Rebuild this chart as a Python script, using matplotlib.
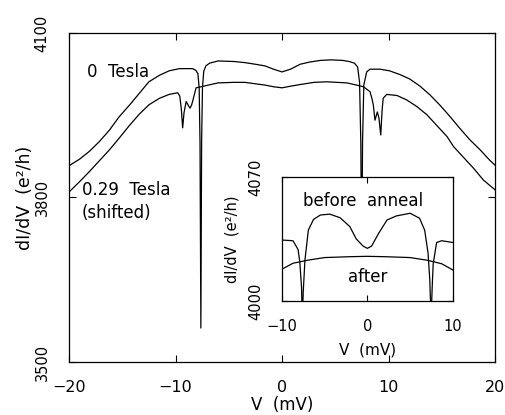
import matplotlib
matplotlib.use('Agg')
import matplotlib.pyplot as plt

plt.rcParams['font.family'] = ['DejaVu Sans']

# main panel: dI/dV vs V, 0 Tesla and 0.29 Tesla (shifted)
zero_v = [-20, -19.0, -18.1, -17.15, -16.2, -15.3, -14.3, -13.4, -12.5, -11.5, -10.6,
          -9.64, -8.4, -8.1, -7.9, -7.78, -7.7, -7.62, -7.55, -7.47, -7.35, -7.15,
          -6.8, -6.0, -4.5, -3.5, -2.5, -1.6, -0.8, 0, 0.8, 1.7, 2.6, 3.6, 4.6, 5.7,
          6.3, 6.8, 7.1, 7.28, 7.4, 7.48, 7.56, 7.68, 7.95, 8.26, 9.2, 10.1, 11.1,
          12.0, 12.96, 13.9, 14.8, 15.8, 16.7, 17.65, 18.6, 19.5, 20]
zero_g = [3858, 3870, 3884, 3902, 3923, 3947, 3969, 3990, 4011, 4023, 4031,
          4035, 4035, 4032, 4026, 4000, 3900, 3562, 3900, 4000, 4030, 4040,
          4045, 4049, 4048, 4046, 4043, 4040, 4034, 4029, 4034, 4043, 4047, 4050, 4051, 4050,
          4048, 4045, 4038, 4010, 3900, 3660, 3900, 4005, 4029, 4034, 4034, 4031, 4024,
          4016, 4003, 3987, 3969, 3947, 3926, 3905, 3887, 3868, 3859]

field_v = [-20, -19.0, -18.1, -17.15, -16.2, -15.3, -14.3, -13.4, -12.5, -11.5, -10.6,
           -9.8, -9.6, -9.45, -9.33, -9.2, -9.0, -8.8, -8.64, -8.5, -8.4, -8.07, -7.6,
           -6.0, -4.5, -3.5, -1.6, -0.8, 0, 0.8, 1.7, 3.0, 4.2, 6.1, 7.0, 7.64, 8.26,
           8.45, 8.57, 8.73, 8.95, 9.1, 9.27, 9.4, 9.5, 9.83, 10.8, 11.7, 12.65, 13.6,
           14.5, 15.5, 16.1, 17.0, 18.0, 18.9, 20]
field_g = [3810, 3829, 3847, 3867, 3887, 3908, 3932, 3952, 3969, 3981, 3988,
           3991, 3985, 3960, 3927, 3955, 3975, 3968, 3963, 3968, 3975, 4000, 4002,
           4009, 4010, 4010, 4005, 4002, 4000, 4003, 4006, 4010, 4011, 4009, 4005, 4002, 3993,
           3980, 3969, 3941, 3956, 3945, 3914, 3960, 3981, 3988, 3986, 3978, 3966, 3951,
           3932, 3911, 3893, 3874, 3853, 3832, 3814]

# inset: before / after anneal
before_v = [-10, -8.7, -8.1, -7.9, -7.7, -7.6, -7.5, -7.3, -6.9, -6.3, -5.5, -4.4,
            -3.2, -2.05, -1.3, -0.5, 0, 0.5, 1.3, 2.3, 3.4, 5.0, 6.1, 6.7, 7.1, 7.3,
            7.45, 7.6, 7.7, 8.1, 8.7, 10]
before_g = [4034.4, 4034, 4029, 4022, 4008, 3990, 4005, 4023, 4040, 4046, 4048.5,
            4049, 4047, 4042, 4035, 4031, 4029.7, 4031, 4038, 4045.7, 4048, 4049.5,
            4046.7, 4040, 4027, 4012, 3990, 4010, 4021, 4033, 4034, 4033]
after_v = [-10, -8.7, -7, -5, -2, 0, 2, 5, 7, 8.7, 10]
after_g = [4017.9, 4021.3, 4023, 4024.5, 4025, 4025.2, 4025, 4024.5, 4023, 4021, 4017.5]

main_xticks = [-20, -10, 0, 10, 20]
main_yticks = [3500, 3800, 4100]
inset_xticks = [-10, 0, 10]
inset_yticks = [4000, 4070]

fig = plt.figure(figsize=(5.06, 4.15), dpi=100)
ax = fig.add_axes([0.1364, 0.1277, 0.8419, 0.7928])
ax.plot(zero_v, zero_g, color='black', lw=0.9)
ax.plot(field_v, field_g, color='black', lw=0.9)
ax.set_xlim(-20, 20)
ax.set_ylim(3500, 4100)
ax.set_xticks(main_xticks)
ax.set_xticklabels([str(t).replace('-', '\u2212') for t in main_xticks], fontsize=11.5)
ax.set_yticks(main_yticks)
ax.set_yticklabels([str(t) for t in main_yticks], rotation=90, va='center', fontsize=10.5)
ax.tick_params(direction='in', top=True, right=True, length=5, width=0.8)
ax.tick_params(axis='x', pad=13)
ax.tick_params(axis='y', pad=14)
for s in ax.spines.values():
    s.set_linewidth(0.9)
ax.set_xlabel('V  (mV)', fontsize=12)
ax.xaxis.set_label_coords(0.5, -0.104)
ax.set_ylabel('dI/dV  (e\u00b2/h)', fontsize=12.5)
ax.yaxis.set_label_coords(-0.082, 0.5)

ax.text(-18.3, 4029, '0  Tesla', fontsize=12, va='center', ha='left')
ax.text(-18.8, 3814, '0.29  Tesla', fontsize=12, va='center', ha='left')
ax.text(-18.8, 3772, '(shifted)', fontsize=12, va='center', ha='left')

ins = fig.add_axes([0.557, 0.2747, 0.338, 0.299])
ins.set_facecolor('white')
ins.plot(before_v, before_g, color='black', lw=0.9)
ins.plot(after_v, after_g, color='black', lw=0.9)
ins.set_xlim(-10, 10)
ins.set_ylim(4000, 4070)
ins.set_xticks(inset_xticks)
ins.set_xticklabels([str(t).replace('-', '\u2212') for t in inset_xticks], fontsize=10.5)
ins.set_yticks(inset_yticks)
ins.set_yticklabels([str(t) for t in inset_yticks], rotation=90, va='center', fontsize=10.5)
ins.tick_params(direction='in', top=True, right=True, length=4, width=0.8)
ins.tick_params(axis='x', pad=13)
ins.tick_params(axis='y', pad=13)
for s in ins.spines.values():
    s.set_linewidth(0.9)
ins.set_xlabel('V  (mV)', fontsize=11)
ins.xaxis.set_label_coords(0.5, -0.335)
ins.set_ylabel('dI/dV  (e\u00b2/h)', fontsize=10.5)
ins.yaxis.set_label_coords(-0.246, 0.5)
ins.text(-0.47, 4056.6, 'before  anneal', fontsize=12, ha='center', va='center')
ins.text(0, 4013.5, 'after', fontsize=12, ha='center', va='center')

fig.savefig('out.png', dpi=100)
